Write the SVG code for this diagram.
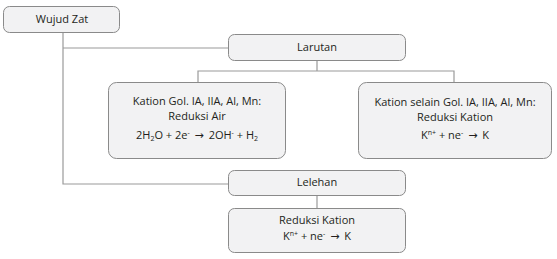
<svg xmlns="http://www.w3.org/2000/svg" width="557" height="259" viewBox="0 0 557 259">
<style>
.box{fill:#f2f2f3;stroke:#8a8a8a;stroke-width:1}
.ln{fill:none;stroke:#9a9a9a;stroke-width:1.2}
text{font-family:"Open Sans","Noto Sans",sans-serif;font-size:11px;fill:#231f20;text-anchor:middle}
.s{font-size:7px}
.ar{font-family:"DejaVu Sans",sans-serif;font-size:11px}
</style>
<rect width="557" height="259" fill="#fff"/>
<g id="connectors">
<path class="ln" d="M63 32V184H228"/>
<path class="ln" d="M63 48H228"/>
<path class="ln" d="M317 61V71M198 82V71H454V82"/>
<path class="ln" d="M317 195V208"/>
</g>
<g id="wujud-zat"><rect class="box" x="3.5" y="6.5" width="116" height="26" rx="6"/><text x="62" y="23">Wujud Zat</text></g>
<g id="larutan"><rect class="box" x="228.5" y="34.5" width="177" height="26" rx="6"/><text x="317" y="51">Larutan</text></g>
<g id="kation-gol"><rect class="box" x="108.5" y="82.5" width="177" height="76" rx="8"/>
<text x="197" y="105">Kation Gol. IA, IIA, Al, Mn:</text>
<text x="197" y="120">Reduksi Air</text>
<text x="197" y="139">2H<tspan class="s" dy="2">2</tspan><tspan dy="-2">O + 2e</tspan><tspan class="s" dy="-4">-</tspan><tspan dy="4" dx="2"> </tspan><tspan class="ar">→</tspan><tspan dx="2"> 2OH</tspan><tspan class="s" dy="-4">-</tspan><tspan dy="4"> + H</tspan><tspan class="s" dy="2">2</tspan></text></g>
<g id="kation-selain"><rect class="box" x="358.5" y="82.5" width="193" height="76" rx="8"/>
<text x="455" y="106">Kation selain Gol. IA, IIA, Al, Mn:</text>
<text x="455" y="121">Reduksi Kation</text>
<text x="455" y="139">K<tspan class="s" dy="-4">n+</tspan><tspan dy="4"> + ne</tspan><tspan class="s" dy="-4">-</tspan><tspan dy="4" dx="2"> </tspan><tspan class="ar">→</tspan><tspan dx="2"> K</tspan></text></g>
<g id="lelehan"><rect class="box" x="228.5" y="170.5" width="177" height="25" rx="6"/><text x="317" y="186">Lelehan</text></g>
<g id="reduksi-kation"><rect class="box" x="228.5" y="208.5" width="177" height="44" rx="6"/>
<text x="317" y="224">Reduksi Kation</text>
<text x="317" y="240">K<tspan class="s" dy="-4">n+</tspan><tspan dy="4"> + ne</tspan><tspan class="s" dy="-4">-</tspan><tspan dy="4" dx="2"> </tspan><tspan class="ar">→</tspan><tspan dx="2"> K</tspan></text></g>
</svg>
